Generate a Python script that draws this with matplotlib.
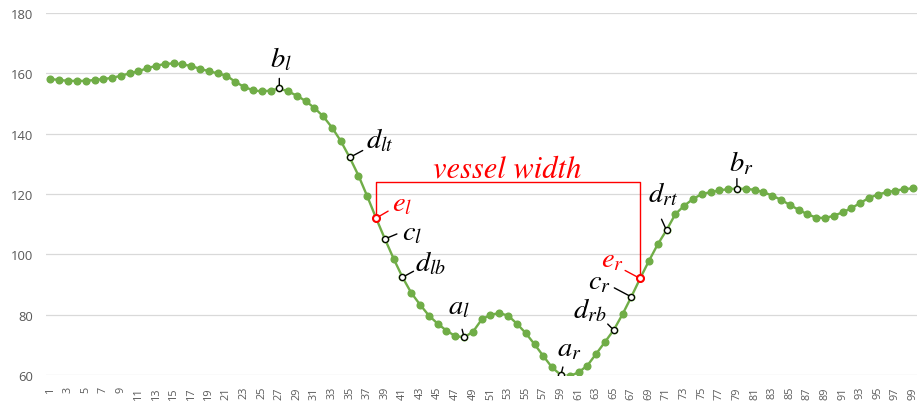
import matplotlib
matplotlib.use('Agg')
import matplotlib.pyplot as plt

plt.rcParams['mathtext.fontset'] = 'stix'

# ---------------- data ----------------
positions = list(range(1, 100))
values = [
    158.1, 157.8, 157.5, 157.5, 157.5, 157.8, 158.1, 158.5, 159.2, 160.0,
    160.7, 161.7, 162.5, 163.1, 163.3, 163.0, 162.4, 161.5, 160.7, 160.0,
    159.2, 157.2, 155.5, 154.4, 154.0, 154.3, 155.0, 154.0, 152.6, 150.8,
    148.5, 145.7, 142.0, 137.5, 132.1, 126.1, 119.2, 112.0, 105.1, 98.5,
    92.4, 87.2, 83.3, 79.7, 77.0, 74.7, 72.9, 72.5, 74.3, 78.4,
    80.0, 80.5, 79.7, 77.0, 73.9, 70.2, 66.3, 62.5, 60.0, 59.6,
    60.9, 63.1, 67.0, 70.9, 74.9, 80.1, 85.9, 92.0, 97.8, 103.3,
    108.0, 113.3, 116.1, 118.3, 120.0, 120.6, 121.2, 121.6, 121.8, 121.7,
    121.4, 120.6, 119.5, 118.1, 116.4, 114.8, 113.3, 112.2, 112.0, 112.8,
    113.9, 115.3, 117.0, 118.7, 119.8, 120.6, 121.1, 121.6, 121.9,
]
tick_positions = list(range(1, 100, 2))
tick_labels = [str(i) for i in tick_positions]
y_ticks = [60, 80, 100, 120, 140, 160, 180]

key_points = [27, 35, 38, 39, 41, 48, 59, 65, 67, 68, 71, 79]
key_labels = [r'$b_l$', r'$d_{lt}$', r'$e_l$', r'$c_l$', r'$d_{lb}$', r'$a_l$',
              r'$a_r$', r'$d_{rb}$', r'$c_r$', r'$e_r$', r'$d_{rt}$', r'$b_r$']
key_is_edge = [False, False, True, False, False, False,
               False, False, False, True, False, False]

width_left = 38
width_right = 68
bracket_level = 124
width_text = 'vessel width'

# ---------------- layout (pixel offsets) ----------------
# (line_dx, line_dy, text_dx, text_dy)
offsets = [
    (0, 10, -9, 22),
    (13, 7, 16, 10),
    (12, 7, 16, 8),
    (12, 5, 17, 0),
    (11, 6, 13, 7),
    (-2, 8, -16, 24),
    (2, 8, -4, 20),
    (-6, 6, -41, 13),
    (-17, 9, -43, 8),
    (-15, 8, -39, 12),
    (-5, 11, -18, 29),
    (0, 10, -8, 18),
]

green = '#70AD47'
grid_c = '#D9D9D9'
tick_c = '#595959'

W, H = 920, 406
fig = plt.figure(figsize=(W / 100, H / 100), dpi=100)
ax = fig.add_axes([46.1 / W, 1 - 376 / H, (917.3 - 46.1) / W, (376 - 14) / H])

ax.plot(positions, values, color=green, lw=1.7, marker='o', markersize=4.8,
        markerfacecolor=green, markeredgecolor=green, zorder=3)

ax.set_xlim(0.5, 99.5)
ax.set_ylim(60, 180)
ax.set_yticks(y_ticks)
ax.set_xticks(tick_positions)
ax.set_xticklabels(tick_labels, rotation=90, fontsize=7.8, color=tick_c,
                   fontfamily='Open Sans')
ax.set_yticklabels([str(v) for v in y_ticks], fontsize=9.4, color=tick_c,
                   fontfamily='Open Sans')
ax.tick_params(axis='x', length=0, pad=8)
ax.tick_params(axis='y', length=0, pad=9)
for s in ax.spines.values():
    s.set_visible(False)
ax.yaxis.grid(True, color=grid_c, lw=0.9)
ax.set_axisbelow(True)

# vessel width bracket
ax.plot([width_left, width_left, width_right, width_right],
        [values[width_left - 1], bracket_level, bracket_level, values[width_right - 1]],
        color='red', lw=1.0, zorder=4)
ax.annotate(width_text, xy=((width_left + width_right) / 2, bracket_level),
            xytext=(-1, 5), textcoords='offset pixels', ha='center', va='baseline',
            fontsize=22, color='red', fontfamily='STIXGeneral', style='italic')

for idx, lab, edge, (ldx, ldy, tdx, tdy) in zip(key_points, key_labels, key_is_edge, offsets):
    xv, yv = idx, values[idx - 1]
    col = 'red' if edge else 'black'
    ax.annotate('', xy=(xv, yv), xytext=(ldx, ldy), textcoords='offset pixels',
                arrowprops=dict(arrowstyle='-', color=col, lw=1.0, shrinkA=0, shrinkB=2),
                zorder=5)
    ax.plot([xv], [yv], marker='o', markersize=5.0 if edge else 4.3,
            markerfacecolor='white', markeredgecolor=col,
            markeredgewidth=1.5 if edge else 0.9, zorder=6)
    ax.annotate(lab, xy=(xv, yv), xytext=(tdx, tdy), textcoords='offset pixels',
                ha='left', va='baseline', fontsize=20.5, color=col, zorder=6)

fig.savefig('out.png', dpi=100)
